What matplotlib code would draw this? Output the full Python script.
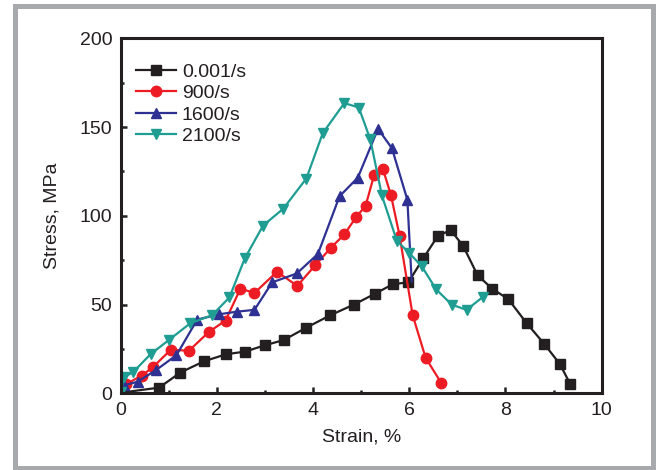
import matplotlib.pyplot as plt
from matplotlib.patches import Rectangle
from matplotlib.ticker import MultipleLocator

# values
black_x = [0.05, 0.8, 1.24, 1.73, 2.19, 2.59, 2.99, 3.39, 3.86, 4.36, 4.85, 5.28, 5.66, 5.98,
           6.29, 6.59, 6.86, 7.12, 7.42, 7.72, 8.06, 8.44, 8.8, 9.13, 9.35]
black_y = [0.5, 3.2, 11.7, 18, 22, 23.5, 27, 30, 37, 44, 50, 56, 61.5, 62.5,
           76, 88.5, 92, 83, 66.5, 59, 53, 39.5, 28, 16.5, 5]

red_x = [0.1, 0.44, 0.68, 1.04, 1.42, 1.83, 2.18, 2.49, 2.78, 3.25, 3.67, 4.04, 4.37, 4.65,
         4.9, 5.09, 5.27, 5.45, 5.62, 5.8, 6.07, 6.34, 6.66]
red_y = [5, 10, 15, 24.5, 24, 34.5, 41, 59, 56.5, 68.5, 60.5, 72, 82, 89.5,
         99.5, 105.5, 123, 126.5, 111.5, 88.5, 44, 20, 6]

blue_x = [0.07, 0.35, 0.73, 1.16, 1.59, 2.04, 2.42, 2.78, 3.15, 3.66, 4.1, 4.55, 4.93,
          5.35, 5.64, 5.96, 6.05]
blue_y = [4.5, 6.5, 13, 21.5, 41.5, 44.5, 46, 47, 62.5, 67.5, 78.5, 111, 121.5,
          149, 138, 109, 63]

teal_x = [0.0, 0.07, 0.26, 0.62, 1.0, 1.45, 1.9, 2.26, 2.58, 2.96, 3.38, 3.86, 4.2, 4.65,
          4.95, 5.19, 5.43, 5.74, 6.0, 6.26, 6.56, 6.88, 7.19, 7.54]
teal_y = [1, 9, 12, 22, 30, 39.5, 44, 54, 76, 94.5, 104, 121, 146.5, 163.5,
          161, 143, 111.5, 86, 79, 71.5, 58.5, 50, 47, 54.5]

labels = ["0.001/s", "900/s", "1600/s", "2100/s"]

INK = "#231f20"
plt.rcParams["font.family"] = ["Liberation Sans", "DejaVu Sans"]
plt.rcParams["font.size"] = 14
plt.rcParams["text.color"] = INK
plt.rcParams["axes.labelcolor"] = INK
plt.rcParams["xtick.color"] = INK
plt.rcParams["ytick.color"] = INK

fig = plt.figure(figsize=(6.56, 4.70), dpi=100)
ax = fig.add_axes([0.184, 0.1632, 0.7332, 0.7553])

# gray frame around the whole figure
fig.patches.append(Rectangle((15 / 656, 2.5 / 470), 637.5 / 656, 461.5 / 470,
                             transform=fig.transFigure, fill=False,
                             edgecolor="#a7a9ac", linewidth=3.6))

lw = 1.6
ax.plot(black_x, black_y, color=INK, lw=lw, marker="s", ms=6.5, label=labels[0])
ax.plot(red_x, red_y, color="#ed1c24", lw=lw, marker="o", ms=7.5, label=labels[1])
ax.plot(blue_x, blue_y, color="#2e3192", lw=lw, marker="^", ms=7.5,
        markevery=list(range(len(blue_x) - 1)), label=labels[2])
ax.plot(teal_x, teal_y, color="#1f9d93", lw=lw, marker="v", ms=7.5, label=labels[3])

ax.set_xlim(0, 10)
ax.set_ylim(0, 200)
ax.xaxis.set_major_locator(MultipleLocator(2))
ax.xaxis.set_minor_locator(MultipleLocator(1))
ax.yaxis.set_major_locator(MultipleLocator(50))
ax.yaxis.set_minor_locator(MultipleLocator(25))
ax.tick_params(which="both", direction="in", width=1.8)
ax.tick_params(which="major", length=4.5, pad=6)
ax.tick_params(which="minor", length=2.5)
for spine in ax.spines.values():
    spine.set_linewidth(2.2)
    spine.set_color(INK)

ax.set_xlabel("Strain, %", labelpad=7)
ax.set_ylabel("Stress, MPa", labelpad=14)

ax.legend(loc="upper left", bbox_to_anchor=(0.032, 0.93), frameon=False,
          borderaxespad=0, borderpad=0, handlelength=2.06, handletextpad=0.3,
          labelspacing=0.2)

fig.savefig("out.png", dpi=100)
